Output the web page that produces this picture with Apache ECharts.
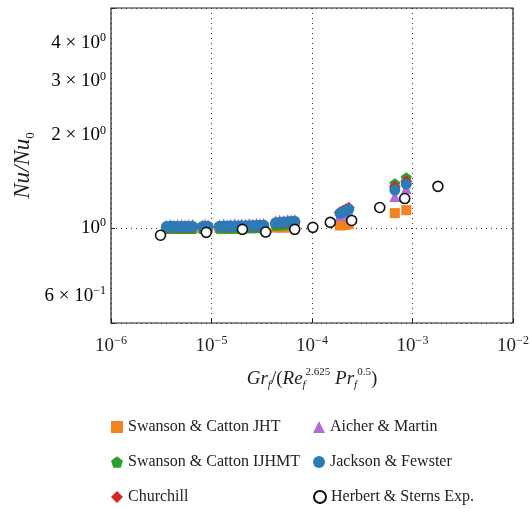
<!DOCTYPE html>
<html><head><meta charset="utf-8">
<script src="https://cdn.jsdelivr.net/npm/echarts@6/dist/echarts.min.js"></script>
<style>html,body{margin:0;padding:0;background:#fff}#c{width:530px;height:509px}</style>
</head><body><div id="c"></div>
<script>
// x values shared by all model series
const xModel = [
  3.57e-6, 3.91e-6, 4.24e-6, 4.60e-6, 5.04e-6, 5.46e-6, 5.91e-6, 6.48e-6,
  8.15e-6, 8.63e-6, 9.25e-6,
  1.20e-5, 1.32e-5, 1.43e-5, 1.55e-5, 1.70e-5, 1.84e-5, 1.99e-5, 2.19e-5, 2.37e-5, 2.57e-5, 2.81e-5, 3.05e-5, 3.30e-5,
  4.35e-5, 4.77e-5, 5.23e-5, 5.73e-5, 6.21e-5, 6.73e-5,
  1.90e-4, 2.03e-4, 2.17e-4, 2.32e-4,
  6.67e-4, 8.67e-4
];
const ySwansonJHT = [
  0.995, 0.995, 0.996, 0.996, 0.996, 0.997, 0.997, 0.997,
  0.997, 0.998, 0.998,
  0.998, 0.998, 0.999, 0.999, 0.999, 1.000, 1.000, 1.000, 1.001, 1.001, 1.001, 1.002, 1.002,
  1.002, 1.003, 1.003, 1.004, 1.004, 1.005,
  1.018, 1.021, 1.024, 1.027,
  1.117, 1.142
];
const ySwansonIJHMT = [
  0.995, 0.996, 0.995, 0.995, 0.996, 0.996, 0.995, 0.996,
  0.996, 0.996, 0.997,
  0.997, 0.997, 0.998, 0.998, 0.998, 0.999, 0.999, 1.000, 1.000, 1.001, 1.001, 1.002, 1.003,
  1.020, 1.022, 1.024, 1.026, 1.028, 1.030,
  1.118, 1.128, 1.140, 1.152,
  1.393, 1.457
];
const yChurchill = [
  1.005, 1.006, 1.006, 1.005, 1.007, 1.006, 1.005, 1.007,
  1.006, 1.007, 1.006,
  1.007, 1.008, 1.007, 1.009, 1.008, 1.010, 1.009, 1.011, 1.010, 1.012, 1.013, 1.014, 1.015,
  1.035, 1.037, 1.039, 1.041, 1.043, 1.045,
  1.125, 1.136, 1.149, 1.162,
  1.362, 1.419
];
const yAicher = [
  1.020, 1.025, 1.021, 1.024, 1.026, 1.021, 1.025, 1.027,
  1.022, 1.026, 1.023,
  1.023, 1.029, 1.024, 1.028, 1.031, 1.025, 1.032, 1.028, 1.033, 1.029, 1.035, 1.031, 1.036,
  1.055, 1.060, 1.057, 1.062, 1.061, 1.065,
  1.095, 1.105, 1.118, 1.130,
  1.264, 1.342
];
const yJackson = [
  1.010, 1.012, 1.011, 1.010, 1.012, 1.011, 1.010, 1.012,
  1.011, 1.012, 1.011,
  1.012, 1.013, 1.012, 1.014, 1.013, 1.015, 1.014, 1.016, 1.015, 1.017, 1.018, 1.019, 1.020,
  1.040, 1.042, 1.044, 1.046, 1.048, 1.050,
  1.115, 1.125, 1.138, 1.150,
  1.328, 1.388
];
// Herbert & Sterns experiments
const xHerbert = [3.11e-6, 8.87e-6, 2.03e-5, 3.46e-5, 6.73e-5, 1.02e-4, 1.52e-4, 2.48e-4, 4.72e-4, 8.37e-4, 1.79e-3];
const yHerbert = [0.946, 0.967, 0.989, 0.969, 0.989, 1.004, 1.042, 1.057, 1.165, 1.246, 1.365];

// tick labels
const yTickValues = [0.6, 1, 2, 3, 4];
const yTickMantissa = ['6', '', '2', '3', '4'];
const yTickExponent = ['−1', '0', '0', '0', '0'];

const seriesNames = ['Swanson & Catton JHT', 'Swanson & Catton IJHMT', 'Churchill', 'Aicher & Martin', 'Jackson & Fewster', 'Herbert & Sterns Exp.'];

const FONT = "'Liberation Serif', 'DejaVu Serif', serif";
const TXT = '#222';
const pentagon = 'path://M0,-1 L0.951,-0.309 L0.588,0.809 L-0.588,0.809 L-0.951,-0.309 Z';

function pairs(xs, ys) { return xs.map((x, i) => [x, ys[i]]); }

const tickRich = {
  n: { fontFamily: FONT, fontSize: 19, lineHeight: 22, color: TXT },
  s: { fontFamily: FONT, fontSize: 12, lineHeight: 12, verticalAlign: 'top', color: TXT }
};

// legend placement: 2 columns x 3 rows
const legendCols = [111, 313];
const legendRows = [419, 454, 489];
const legends = seriesNames.map((n, i) => ({
  left: legendCols[Math.floor(i / 3)], top: legendRows[i % 3], padding: 0,
  itemWidth: 12, itemHeight: 12, selectedMode: false,
  textStyle: { fontFamily: FONT, fontSize: 16, lineHeight: 16, color: TXT },
  data: [n]
}));

const chart = echarts.init(document.getElementById('c'), null, { renderer: 'canvas' });
chart.setOption({
  animation: false,
  backgroundColor: '#fff',
  grid: { left: 111, top: 8, width: 402, height: 315, show: true, borderColor: '#222', borderWidth: 1.2,
          backgroundColor: 'transparent', containLabel: false, outerBoundsMode: 'none' },
  legend: legends,
  xAxis: {
    type: 'log', logBase: 10, min: 1e-6, max: 1e-2,
    axisLine: { show: false },
    axisTick: { show: true, inside: true, length: 4, lineStyle: { color: '#222' } },
    splitLine: { show: true, lineStyle: { type: [1, 4], color: '#333', width: 1 } },
    axisLabel: {
      margin: 12, showMinLabel: true, showMaxLabel: true,
      formatter: v => { const e = Math.round(Math.log10(v)); return '{n|10}{s|' + (e < 0 ? '−' : '') + Math.abs(e) + '}'; },
      rich: tickRich
    },
    name: '{i|Gr}{sub|f}{r|/(}{i|Re}{sub|f}{sup|2.625}{i| Pr}{sub|f}{sup|0.5}{r|)}',
    nameLocation: 'middle', nameGap: 44,
    nameTextStyle: {
      rich: {
        i: { fontFamily: FONT, fontStyle: 'italic', fontSize: 19, lineHeight: 24, color: TXT },
        r: { fontFamily: FONT, fontSize: 19, lineHeight: 24, color: TXT },
        sub: { fontFamily: FONT, fontStyle: 'italic', fontSize: 11, lineHeight: 11, verticalAlign: 'bottom', color: TXT },
        sup: { fontFamily: FONT, fontSize: 11, lineHeight: 14, verticalAlign: 'top', color: TXT }
      }
    }
  },
  yAxis: {
    type: 'log', logBase: 10, min: 0.49, max: 5.2,
    axisLine: { show: false },
    axisTick: { show: true, inside: true, length: 4, lineStyle: { color: '#222' } },
    splitLine: { show: true, lineStyle: { type: [1, 4], color: '#333', width: 1 } },
    axisLabel: { show: false },
    name: '{i|Nu/Nu}{sub|0}',
    nameLocation: 'middle', nameGap: 74, nameRotate: 90,
    nameTextStyle: {
      rich: {
        i: { fontFamily: FONT, fontStyle: 'italic', fontSize: 23, lineHeight: 28, color: TXT },
        sub: { fontFamily: FONT, fontSize: 13, lineHeight: 13, verticalAlign: 'bottom', color: TXT }
      }
    }
  },
  series: [
    { name: seriesNames[0], type: 'scatter', symbol: 'rect', symbolSize: 10, itemStyle: { color: '#f58220', opacity: 1 }, data: pairs(xModel, ySwansonJHT) },
    { name: seriesNames[1], type: 'scatter', symbol: pentagon, symbolSize: 11, itemStyle: { color: '#2ca02c', opacity: 1 }, data: pairs(xModel, ySwansonIJHMT) },
    { name: seriesNames[2], type: 'scatter', symbol: 'diamond', symbolSize: 12, itemStyle: { color: '#d62728', opacity: 1 }, data: pairs(xModel, yChurchill) },
    { name: seriesNames[3], type: 'scatter', symbol: 'triangle', symbolSize: 11, itemStyle: { color: '#b06cd4', opacity: 1 }, data: pairs(xModel, yAicher) },
    { name: seriesNames[4], type: 'scatter', symbol: 'circle', symbolSize: 11, itemStyle: { color: '#2c7bb6', opacity: 1 }, data: pairs(xModel, yJackson) },
    { name: seriesNames[5], type: 'scatter', symbol: 'circle', symbolSize: 10,
      itemStyle: { color: '#fff', borderColor: '#111', borderWidth: 1.6, opacity: 1 },
      data: pairs(xHerbert, yHerbert) }
  ]
});

// y tick labels placed through the y axis scale
const yLabelGraphics = yTickValues.map((v, i) => {
  const py = chart.convertToPixel({ yAxisIndex: 0 }, v);
  const m = yTickMantissa[i];
  return {
    type: 'text', x: 106, y: py, silent: true,
    style: {
      text: '{n|' + (m ? m + ' × 10' : '10') + '}{s|' + yTickExponent[i] + '}',
      rich: tickRich, align: 'right', verticalAlign: 'middle',
      textAlign: 'right', textVerticalAlign: 'middle'
    }
  };
});
chart.setOption({ graphic: yLabelGraphics });
</script>
</body></html>
